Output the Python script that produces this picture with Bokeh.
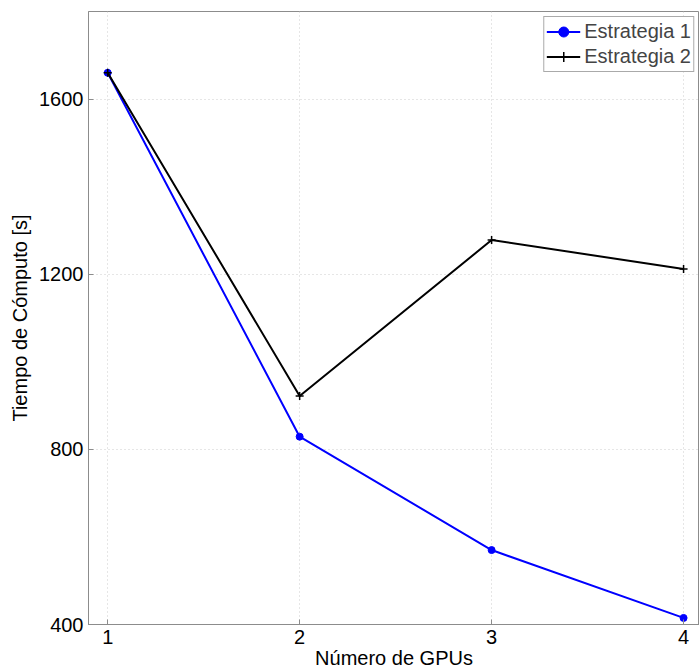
from bokeh.plotting import figure
from bokeh.models import FixedTicker, Range1d, Legend, LegendItem
from bokeh.embed import file_html
from bokeh.resources import INLINE

# Compute time versus number of GPUs for two strategies
gpus = [1, 2, 3, 4]
estrategia_1 = [1660, 829, 570, 415]
estrategia_2 = [1660, 922, 1278, 1212]
x_ticks = [1, 2, 3, 4]
y_ticks = [400, 800, 1200, 1600]

FONT = "Liberation Sans"
AXIS_GRAY = "#8c8c8c"

p = figure(width=699, height=671, output_backend="svg", toolbar_location=None,
           x_range=Range1d(0.9, 4.083), y_range=Range1d(400, 1800),
           min_border_left=88, min_border_top=11, min_border_bottom=46,
           min_border_right=0)

p.outline_line_color = AXIS_GRAY
p.outline_line_width = 1

for ax in (p.xaxis, p.yaxis):
    ax.axis_line_color = AXIS_GRAY
    ax.major_tick_line_color = AXIS_GRAY
    ax.major_tick_in = 5
    ax.major_tick_out = 0
    ax.minor_tick_line_color = None
    ax.major_label_text_font = FONT
    ax.major_label_text_font_size = "20px"
    ax.major_label_text_color = "black"
    ax.axis_label_text_font = FONT
    ax.axis_label_text_font_size = "20px"
    ax.axis_label_text_font_style = "normal"
    ax.axis_label_text_color = "black"

p.xaxis.ticker = FixedTicker(ticks=x_ticks)
p.yaxis.ticker = FixedTicker(ticks=y_ticks)
p.xaxis.major_label_standoff = 5
p.yaxis.major_label_standoff = 5
p.xaxis.axis_label = "Número de GPUs"
p.yaxis.axis_label = "Tiempo de Cómputo [s]"
p.xaxis.axis_label_standoff = 0
p.yaxis.axis_label_standoff = 5

p.grid.grid_line_color = "#cccccc"
p.grid.grid_line_dash = "1 3"
p.grid.grid_line_width = 1

l1 = p.line(gpus, estrategia_1, line_color="#0000ff", line_width=2)
m1 = p.scatter(gpus, estrategia_1, marker="circle", size=7,
               fill_color="#0000ff", line_color="#0000ff")
l2 = p.line(gpus, estrategia_2, line_color="black", line_width=2)
m2 = p.scatter(gpus, estrategia_2, marker="cross", size=8,
               line_color="black", line_width=1.5)

legend = Legend(items=[
    LegendItem(label="Estrategia 1", renderers=[l1, m1]),
    LegendItem(label="Estrategia 2", renderers=[l2, m2]),
], location="top_right")
legend.label_text_font = FONT
legend.label_text_font_size = "20px"
legend.border_line_color = "#555555"
legend.border_line_width = 1
legend.background_fill_alpha = 1
legend.margin = 5
legend.padding = 2
legend.spacing = 0
legend.glyph_width = 34
legend.label_standoff = 4
legend.label_height = 25
legend.glyph_height = 25
p.add_layout(legend)

open("out.html", "w").write(file_html(p, INLINE))
